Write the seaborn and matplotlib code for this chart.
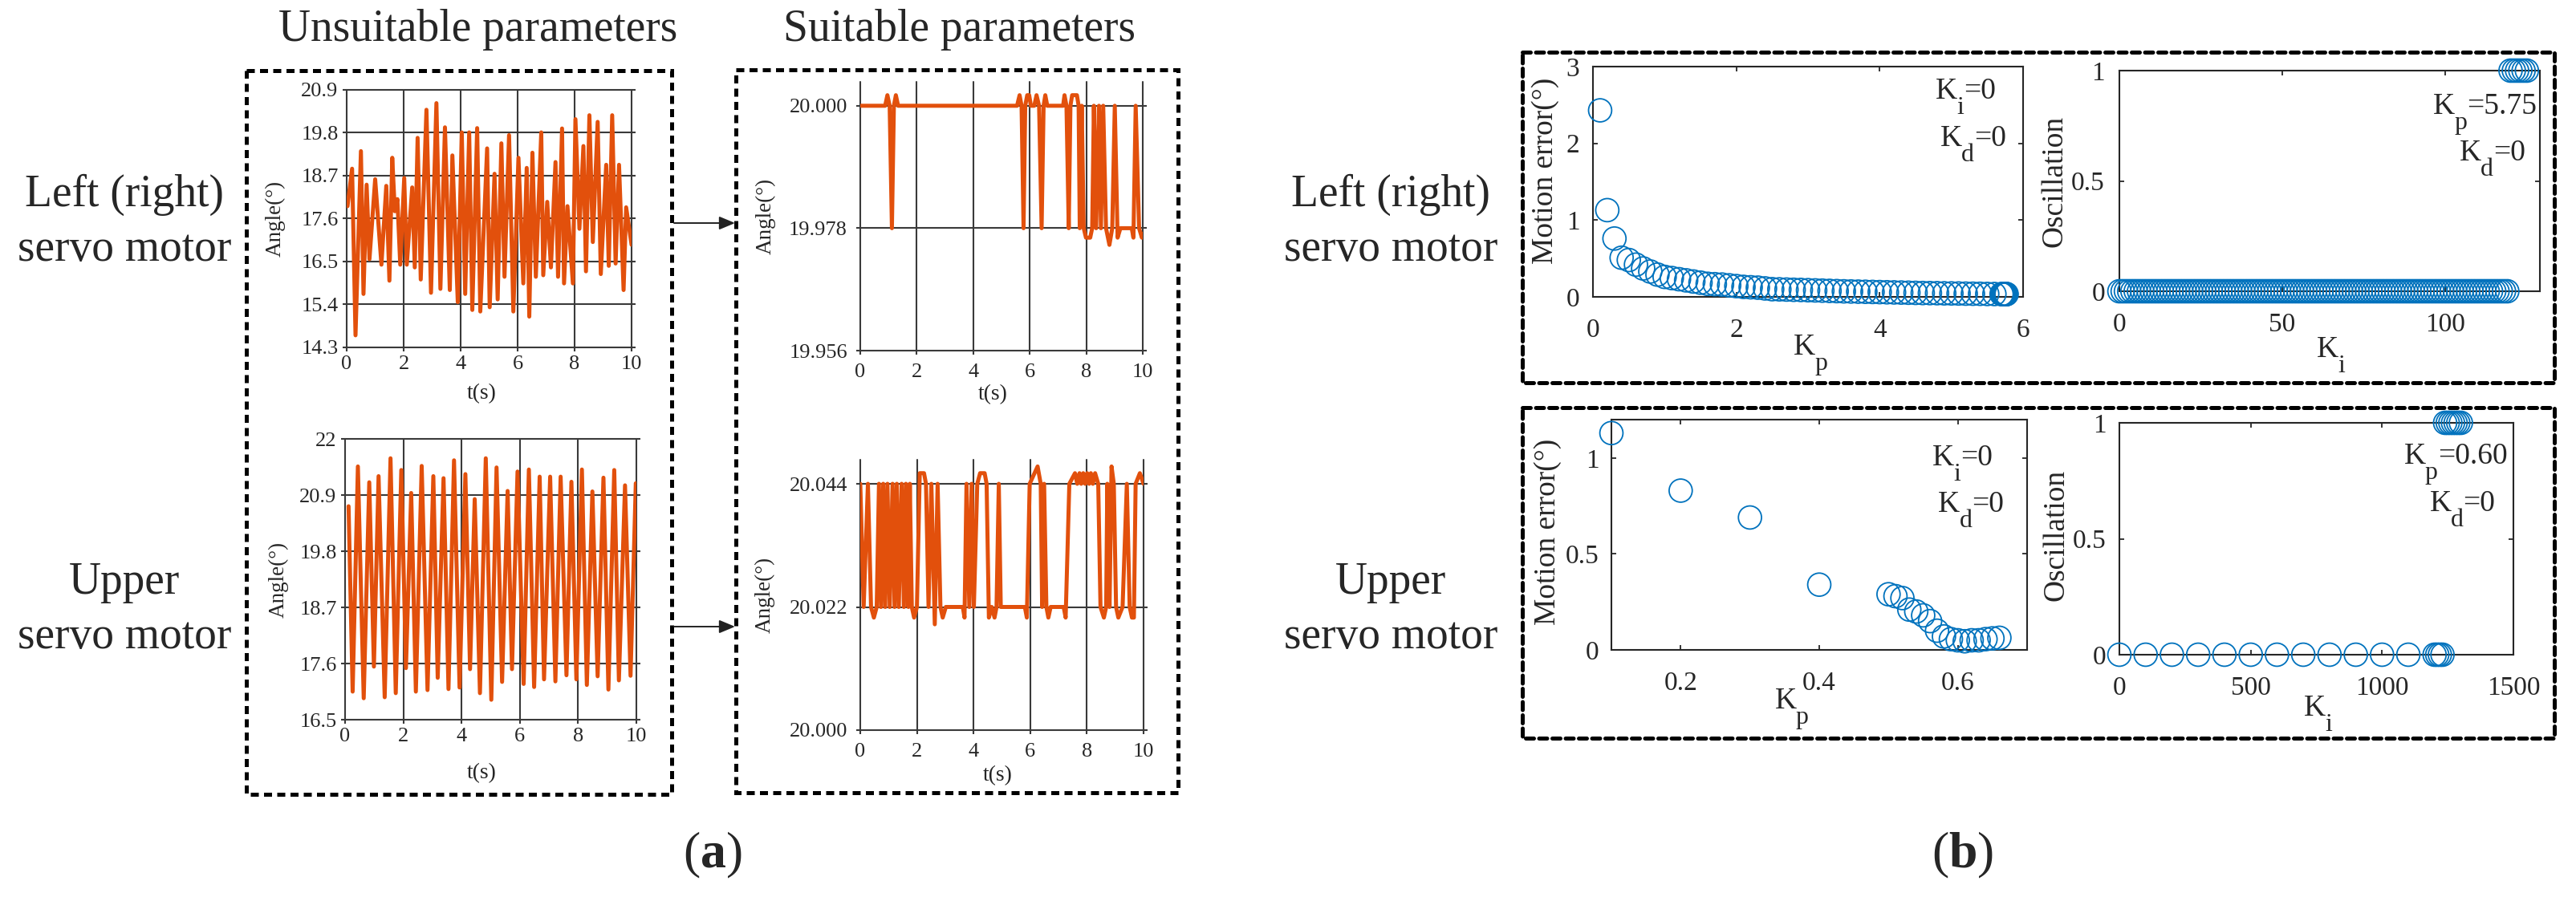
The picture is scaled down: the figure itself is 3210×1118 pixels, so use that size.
import matplotlib
matplotlib.use("Agg")
import matplotlib.pyplot as plt
import seaborn as sns
import numpy as np
from matplotlib.patches import Rectangle
from matplotlib.ticker import FuncFormatter

# ------------------------------------------------------------------ data
# (a) unsuitable parameters, left (right) servo motor: time (s) / angle (deg)
t_left_unsuit = [0.03, 0.19, 0.31, 0.50, 0.59, 0.70, 0.80, 1.00, 1.22, 1.39,
                 1.50, 1.60, 1.69, 1.78, 1.88, 2.02, 2.11, 2.30, 2.39, 2.49,
                 2.60, 2.80, 2.96, 3.15, 3.29, 3.45, 3.62, 3.71, 3.90, 4.04,
                 4.16, 4.30, 4.41, 4.58, 4.69, 4.93, 5.02, 5.19, 5.30, 5.43,
                 5.54, 5.70, 5.85, 6.03, 6.20, 6.32, 6.41, 6.52, 6.64, 6.83,
                 6.90, 7.04, 7.17, 7.33, 7.42, 7.56, 7.63, 7.75, 7.94, 8.03,
                 8.17, 8.31, 8.40, 8.52, 8.64, 8.81, 8.92, 9.11, 9.20, 9.32,
                 9.44, 9.56, 9.72, 9.81, 10.0]
ang_left_unsuit = [17.92, 18.88, 14.61, 19.33, 15.67, 18.47, 16.56, 18.61, 16.42, 18.44,
                   16.01, 19.16, 17.79, 18.10, 16.42, 18.64, 16.42, 18.40, 16.35, 19.67,
                   16.04, 20.39, 15.70, 20.56, 15.80, 19.94, 15.77, 19.22, 15.46, 19.81,
                   15.67, 19.81, 15.26, 19.92, 15.22, 19.40, 15.33, 18.75, 15.53, 19.53,
                   16.11, 19.74, 15.22, 19.16, 15.94, 18.90, 15.09, 19.29, 16.11, 19.81,
                   16.15, 18.03, 16.35, 19.05, 16.11, 19.91, 15.94, 17.92, 15.94, 20.15,
                   17.34, 19.46, 16.25, 20.25, 17.00, 20.08, 16.18, 18.98, 16.39, 20.25,
                   16.45, 18.98, 15.77, 17.89, 16.93]

# (a) unsuitable parameters, upper servo motor
t_upper_unsuit = [0.12, 0.26, 0.44, 0.64, 0.83, 0.99, 1.15, 1.36, 1.56, 1.74,
                  1.93, 2.09, 2.27, 2.43, 2.63, 2.83, 3.03, 3.18, 3.38, 3.55,
                  3.74, 3.93, 4.13, 4.29, 4.45, 4.63, 4.83, 5.02, 5.20, 5.39,
                  5.58, 5.73, 5.92, 6.13, 6.31, 6.49, 6.68, 6.83, 7.04, 7.22,
                  7.40, 7.60, 7.77, 7.94, 8.13, 8.30, 8.49, 8.67, 8.87, 9.04,
                  9.24, 9.40, 9.61, 9.80, 9.98]
ang_upper_unsuit = [20.68, 17.05, 21.46, 16.92, 21.15, 17.54, 21.27, 16.94, 21.62, 17.02,
                    21.39, 17.51, 20.94, 17.05, 21.47, 17.08, 21.27, 17.32, 21.23, 17.10,
                    21.58, 17.13, 21.31, 17.49, 20.82, 17.02, 21.62, 16.89, 21.44, 17.24,
                    20.98, 17.49, 21.36, 17.20, 21.40, 17.14, 21.26, 17.29, 21.26, 17.25,
                    21.26, 17.37, 21.16, 17.29, 21.40, 17.18, 20.97, 17.35, 21.24, 17.09,
                    21.39, 17.27, 21.09, 17.36, 21.13]

# (a) suitable parameters, left (right) servo motor
t_left_suit = [0.00, 0.88, 0.96, 1.04, 1.12, 1.19, 1.26, 1.34, 5.55, 5.64,
               5.71, 5.78, 5.84, 5.91, 5.98, 6.04, 6.16, 6.24, 6.33, 6.42,
               6.49, 6.55, 6.62, 7.18, 7.23, 7.30, 7.38, 7.44, 7.50, 7.58,
               7.67, 7.73, 7.77, 7.84, 7.91, 7.99, 8.14, 8.21, 8.27, 8.35,
               8.45, 8.52, 8.60, 8.70, 8.82, 8.92, 9.01, 9.11, 9.21, 9.61,
               9.67, 9.75, 9.87, 9.97, 10.0]
ang_left_suit = [20.000, 20.000, 20.0019, 20.000, 19.978, 20.000, 20.0019, 20.000, 20.000, 20.0019,
                 20.000, 19.978, 20.000, 20.0019, 20.0019, 20.000, 20.000, 20.0019, 20.000, 19.978,
                 20.000, 20.0019, 20.000, 20.000, 20.0019, 20.000, 19.978, 20.000, 20.0019, 20.0019,
                 20.0019, 20.000, 19.978, 20.000, 19.978, 19.9763, 19.9763, 19.978, 20.000, 19.978,
                 20.000, 19.978, 20.000, 19.978, 19.9750, 19.978, 20.000, 19.9763, 19.978, 19.978,
                 19.9763, 20.000, 19.978, 19.9763, 19.977]

# (a) suitable parameters, upper servo motor
t_upper_suit = [0.00, 0.12, 0.27, 0.38, 0.48, 0.58, 0.66, 0.73, 0.81, 0.88,
                0.96, 1.04, 1.14, 1.21, 1.29, 1.36, 1.46, 1.54, 1.61, 1.70,
                1.75, 1.82, 1.90, 2.00, 2.10, 2.25, 2.32, 2.41, 2.51, 2.63,
                2.73, 2.83, 2.91, 3.02, 3.62, 3.68, 3.75, 3.85, 3.93, 4.01,
                4.13, 4.23, 4.39, 4.46, 4.54, 4.64, 4.74, 4.81, 4.89, 4.96,
                5.81, 5.88, 5.98, 6.26, 6.37, 6.42, 6.49, 6.57, 6.64, 6.72,
                7.18, 7.25, 7.38, 7.58, 7.66, 7.74, 7.80, 7.87, 7.94, 8.01,
                8.08, 8.14, 8.21, 8.29, 8.40, 8.48, 8.60, 8.68, 8.72, 8.80,
                8.87, 8.95, 9.03, 9.11, 9.26, 9.41, 9.51, 9.59, 9.66, 9.72,
                9.87, 10.0]
ang_upper_suit = [20.044, 20.022, 20.044, 20.022, 20.0201, 20.022, 20.044, 20.022, 20.044, 20.022,
                  20.044, 20.022, 20.044, 20.022, 20.044, 20.022, 20.044, 20.022, 20.044, 20.022,
                  20.044, 20.022, 20.0201, 20.022, 20.0459, 20.0459, 20.044, 20.022, 20.044, 20.0189,
                  20.044, 20.022, 20.0201, 20.022, 20.022, 20.0201, 20.044, 20.022, 20.044, 20.022,
                  20.044, 20.0459, 20.0459, 20.044, 20.0201, 20.022, 20.0201, 20.022, 20.044, 20.022,
                  20.022, 20.0201, 20.044, 20.0471, 20.044, 20.022, 20.044, 20.022, 20.0201, 20.022,
                  20.022, 20.0201, 20.044, 20.0459, 20.044, 20.0459, 20.044, 20.0459, 20.044, 20.0459,
                  20.044, 20.0459, 20.044, 20.0459, 20.044, 20.022, 20.0201, 20.022, 20.044, 20.022,
                  20.0471, 20.044, 20.022, 20.0201, 20.022, 20.044, 20.022, 20.0201, 20.0201, 20.044,
                  20.0459, 20.044]

# (b) left (right) servo motor: motion error vs Kp (Ki = 0, Kd = 0)
kp_left = [0.1, 0.2, 0.3, 0.4, 0.5, 0.6, 0.7, 0.8, 0.9, 1.0,
           1.1, 1.2, 1.3, 1.4, 1.5, 1.6, 1.7, 1.8, 1.9, 2.0,
           2.1, 2.2, 2.3, 2.4, 2.5, 2.6, 2.7, 2.8, 2.9, 3.0,
           3.1, 3.2, 3.3, 3.4, 3.5, 3.6, 3.7, 3.8, 3.9, 4.0,
           4.1, 4.2, 4.3, 4.4, 4.5, 4.6, 4.7, 4.8, 4.9, 5.0,
           5.1, 5.2, 5.3, 5.4, 5.5, 5.6, 5.7,
           5.71, 5.72, 5.725, 5.73, 5.735, 5.74, 5.745, 5.75, 5.755, 5.76, 5.765, 5.77]
err_left = [2.43, 1.13, 0.76, 0.51, 0.48, 0.42, 0.37, 0.33, 0.29, 0.26,
            0.245, 0.23, 0.215, 0.20, 0.185, 0.17, 0.165, 0.16, 0.15, 0.14,
            0.13, 0.125, 0.12, 0.11, 0.10, 0.098, 0.095, 0.092, 0.09, 0.087,
            0.084, 0.081, 0.078, 0.075, 0.072, 0.07, 0.068, 0.066, 0.064, 0.062,
            0.06, 0.058, 0.056, 0.054, 0.052, 0.05, 0.049, 0.048, 0.046, 0.045,
            0.044, 0.042, 0.041, 0.04, 0.038, 0.037, 0.036,
            0.036, 0.036, 0.036, 0.036, 0.036, 0.036, 0.036, 0.036, 0.036, 0.036, 0.036, 0.036]

# (b) left (right) servo motor: oscillation vs Ki (Kp = 5.75, Kd = 0)
ki_left = list(range(0, 126))
osc_left = [0] * 120 + [1] * 6

# (b) upper servo motor: motion error vs Kp (Ki = 0, Kd = 0)
kp_upper = [0.10, 0.20, 0.30, 0.40, 0.50, 0.51, 0.52, 0.53, 0.54, 0.55, 0.56,
            0.57, 0.58, 0.59, 0.60, 0.61, 0.62, 0.63, 0.64, 0.65, 0.66]
err_upper = [1.13, 0.83, 0.69, 0.34, 0.29, 0.28, 0.27, 0.21, 0.20, 0.18, 0.15,
             0.10, 0.07, 0.056, 0.05, 0.045, 0.05, 0.05, 0.056, 0.06, 0.063]

# (b) upper servo motor: oscillation vs Ki (Kp = 0.60, Kd = 0)
ki_upper = [0, 100, 200, 300, 400, 500, 600, 700, 800, 900, 1000, 1100,
            1200, 1210, 1220, 1230, 1240, 1250, 1260, 1270, 1280, 1290, 1300]
osc_upper = [0, 0, 0, 0, 0, 0, 0, 0, 0, 0, 0, 0,
             0, 0, 0, 0, 1, 1, 1, 1, 1, 1, 1]

# ------------------------------------------------------------------ style
sns.set_theme(style="white")
plt.rcParams["font.family"] = ["Liberation Serif", "DejaVu Serif"]
plt.rcParams["mathtext.fontset"] = "custom"
plt.rcParams["mathtext.rm"] = "Liberation Serif"
plt.rcParams["mathtext.bf"] = "Liberation Serif:bold"
plt.rcParams["axes.unicode_minus"] = False

ORANGE = "#E2500C"
BLUE = "#0072BD"
GRID = "#3a3a3a"
SPINE = "#262626"

W, H = 3210, 1118
fig = plt.figure(figsize=(W / 100, H / 100), dpi=100)
fig.patch.set_facecolor("white")


def add_ax(l, t, r, b):
    ax = fig.add_axes([l / W, 1 - b / H, (r - l) / W, (b - t) / H])
    ax.set_facecolor("none")
    return ax


# overlay for frames, arrows and side texts (pixel coordinates)
ov = fig.add_axes([0, 0, 1, 1])
ov.set_xlim(0, W)
ov.set_ylim(H, 0)
ov.axis("off")
ov.set_facecolor("none")


def dashed_box(x0, y0, x1, y1, round_caps=False):
    r = Rectangle((x0, y0), x1 - x0, y1 - y0, fill=False, ec="black", lw=3.6,
                  ls=(0, (2.0, 1.3)), capstyle="round" if round_caps else "butt",
                  joinstyle="miter")
    ov.add_patch(r)


dashed_box(307, 88, 837, 990)
dashed_box(917, 87, 1468, 988)
dashed_box(1897, 65, 3183, 477, round_caps=True)
dashed_box(1897, 508, 3183, 920, round_caps=True)

for yy in (278, 781):
    ov.annotate("", xy=(916, yy), xytext=(840, yy),
                arrowprops=dict(arrowstyle="-|>,head_length=0.6,head_width=0.25",
                                color="#222222", lw=1.4, mutation_scale=20,
                                shrinkA=0, shrinkB=0))

TXT = 40
ov.text(596, 37, "Unsuitable parameters", fontsize=TXT, ha="center", va="center")
ov.text(1195, 37, "Suitable parameters", fontsize=TXT, ha="center", va="center")
for cx in (155, 1733):
    ov.text(cx, 257, "Left (right)", fontsize=TXT, ha="center", va="baseline")
    ov.text(cx, 325, "servo motor", fontsize=TXT, ha="center", va="baseline")
    ov.text(cx, 740, "Upper", fontsize=TXT, ha="center", va="baseline")
    ov.text(cx, 808, "servo motor", fontsize=TXT, ha="center", va="baseline")
ov.text(888, 1066, r"($\mathbf{a}$)", fontsize=46, ha="center", va="center")
ov.text(2446, 1066, r"($\mathbf{b}$)", fontsize=46, ha="center", va="center")


# ------------------------------------------------------------------ panel (a)
def time_panel(box, t, y, yticks, ylabels, ylim, ylab_x, xlab_xy, ypad, xpad):
    ax = add_ax(*box)
    sns.lineplot(x=t, y=y, ax=ax, color=ORANGE, lw=3.6, sort=False,
                 estimator=None, legend=False, zorder=3,
                 solid_joinstyle="round", solid_capstyle="round")
    ax.set_xlim(0, 10)
    ax.set_ylim(*ylim)
    ax.set_xticks([0, 2, 4, 6, 8, 10])
    ax.set_xticklabels(["0", "2", "4", "6", "8", "10"])
    ax.set_yticks(yticks)
    ax.set_yticklabels(ylabels)
    for s in ax.spines.values():
        s.set_visible(False)
    ax.grid(True, color=GRID, lw=1.5)
    for gl in ax.get_xgridlines() + ax.get_ygridlines():
        gl.set_clip_on(False)
        gl.set_zorder(1)
    ax.set_axisbelow(True)
    ax.tick_params(axis="y", direction="out", length=3.5, width=1.5, color=GRID,
                   labelsize=19, left=True, right=True, pad=ypad)
    ax.tick_params(axis="x", direction="out", length=3.5, width=1.5, color=GRID,
                   labelsize=19, bottom=True, top=False, pad=xpad)
    ax.set_ylabel("Angle(°)", fontsize=19.5)
    ax.yaxis.label.set_va("center")
    ax.yaxis.set_label_coords(ylab_x, 0.5)
    ax.set_xlabel("t(s)", fontsize=20)
    ax.xaxis.label.set_va("center")
    ax.xaxis.set_label_coords(*xlab_xy)
    return ax


time_panel((432, 112, 787, 433), t_left_unsuit, ang_left_unsuit,
           [14.3, 15.4, 16.5, 17.6, 18.7, 19.8, 20.9],
           ["14.3", "15.4", "16.5", "17.6", "18.7", "19.8", "20.9"],
           (14.3, 20.9), -0.25, (0.473, -0.178), 4, 4)
time_panel((430, 547, 793, 897), t_upper_unsuit, ang_upper_unsuit,
           [16.5, 17.6, 18.7, 19.8, 20.9, 22.0],
           ["16.5", "17.6", "18.7", "19.8", "20.9", "22"],
           (16.5, 22.0), -0.229, (0.468, -0.189), 4, 4)
time_panel((1072, 102, 1424, 437), t_left_suit, ang_left_suit,
           [19.956, 19.978, 20.000], ["19.956", "19.978", "20.000"],
           (19.956, 20.0043), -0.336, (0.47, -0.164), 8, 8)
time_panel((1072, 573, 1425, 910), t_upper_suit, ang_upper_suit,
           [20.000, 20.022, 20.044], ["20.000", "20.022", "20.044"],
           (20.000, 20.0483), -0.336, (0.484, -0.169), 8, 8)


# ------------------------------------------------------------------ panel (b)
SUBW = {"p": 0.5, "i": 0.278, "d": 0.5}


def k_text(ax, x, y, sub, rest, fs=27):
    tr = ax.transAxes
    ax.text(x, y, "K", transform=tr, fontsize=fs, ha="left", va="baseline",
            clip_on=False)
    kw = 0.70 * fs
    ax.annotate(sub, xy=(x, y), xycoords=tr, xytext=(kw, -0.5 * fs),
                textcoords="offset points", fontsize=fs * 0.85, ha="left",
                va="baseline", annotation_clip=False)
    if rest:
        ax.annotate(rest, xy=(x, y), xycoords=tr,
                    xytext=(kw + SUBW[sub] * fs * 0.85, 0),
                    textcoords="offset points", fontsize=fs, ha="left",
                    va="baseline", annotation_clip=False)


def scatter_panel(box, x, y, xlim, ylim, xticks, yticks, ylabel, ylab_xy,
                  xsub, xlab_xy, notes, ypad, xpad):
    ax = add_ax(*box)
    sns.scatterplot(x=x, y=y, ax=ax, marker="o", s=430, color=BLUE,
                    facecolors="none", edgecolor=BLUE, linewidth=1.3,
                    clip_on=False, legend=False, zorder=4)
    coll = ax.collections[-1]
    coll.set_facecolor("none")
    coll.set_edgecolor(BLUE)
    ax.set_xlim(*xlim)
    ax.set_ylim(*ylim)
    ax.set_xticks(xticks)
    ax.set_yticks(yticks)
    fmt = FuncFormatter(lambda v, p: f"{v:g}")
    ax.xaxis.set_major_formatter(fmt)
    ax.yaxis.set_major_formatter(fmt)
    for s in ax.spines.values():
        s.set_visible(True)
        s.set_color(SPINE)
        s.set_linewidth(1.5)
    ax.tick_params(axis="both", which="both", direction="in", length=4.5,
                   width=1.3, color=SPINE, labelsize=24, top=True, right=True,
                   bottom=True, left=True)
    ax.tick_params(axis="y", pad=ypad)
    ax.tick_params(axis="x", pad=xpad)
    ax.set_xlabel("")
    ax.set_ylabel(ylabel, fontsize=27)
    ax.yaxis.label.set_va("center")
    ax.yaxis.set_label_coords(*ylab_xy)
    k_text(ax, xlab_xy[0], xlab_xy[1], xsub, "")
    for (nx, ny, sub, rest) in notes:
        k_text(ax, nx, ny, sub, rest)
    return ax


scatter_panel((1985, 83, 2521, 370), kp_left, err_left, (0, 6), (0, 3),
              [0, 2, 4, 6], [0, 1, 2, 3], "Motion error(°)", (-0.11, 0.547),
              "p", (0.466, -0.251),
              [(0.796, 0.861, "i", "=0"), (0.808, 0.655, "d", "=0")], 12, 19)
scatter_panel((2641, 88, 3165, 363), ki_left, osc_left, (0, 129), (0, 1),
              [0, 50, 100], [0, 0.5, 1], "Oscillation", (-0.155, 0.50),
              "i", (0.47, -0.298),
              [(0.746, 0.804, "p", "=5.75"), (0.809, 0.593, "d", "=0")], 13, 19)
scatter_panel((2008, 523, 2526, 810), kp_upper, err_upper, (0.1, 0.7), (0, 1.2),
              [0.2, 0.4, 0.6], [0, 0.5, 1], "Motion error(°)", (-0.154, 0.512),
              "p", (0.393, -0.254),
              [(0.772, 0.801, "i", "=0"), (0.786, 0.599, "d", "=0")], 11, 19)
scatter_panel((2641, 527, 3132, 816), ki_upper, osc_upper, (0, 1500), (0, 1),
              [0, 500, 1000, 1500], [0, 0.5, 1], "Oscillation", (-0.161, 0.515),
              "i", (0.468, -0.263),
              [(0.722, 0.824, "p", "=0.60"), (0.787, 0.619, "d", "=0")], 12, 19)

fig.savefig("out.png", dpi=100, facecolor="white")
